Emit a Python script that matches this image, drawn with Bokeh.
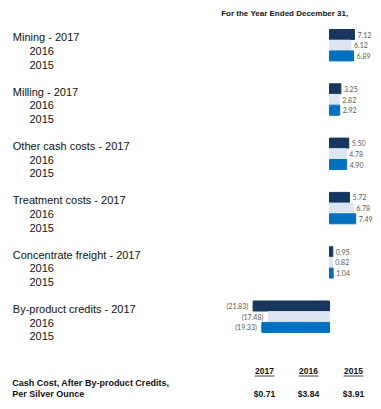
from bokeh.plotting import figure
from bokeh.models import Range1d, ColumnDataSource
from bokeh.core.properties import value
from bokeh.embed import file_html
from bokeh.resources import INLINE

# ---- data ----
categories = ["Mining", "Milling", "Other cash costs", "Treatment costs",
              "Concentrate freight", "By-product credits"]
years = ["2017", "2016", "2015"]
v2017 = [7.12, 3.25, 5.50, 5.72, 0.95, -21.83]
v2016 = [6.12, 2.82, 4.78, 6.78, 0.82, -17.48]
v2015 = [6.89, 2.92, 4.90, 7.49, 1.04, -19.33]
total_label = "Cash Cost, After By-product Credits,"
total_label2 = "Per Silver Ounce"
totals = ["$0.71", "$3.84", "$3.91"]
title = "For the Year Ended December 31,"

colors = ["#17375E", "#DCE6F2", "#0070C0"]

W, H = 381, 409
ZERO_PX = 329.0      # pixel of value zero
SX = 3.5             # pixels per unit
ROW_PX = 54.3        # pixels per group
TOP_PX = 44.7        # pixel of first group centre
X0 = -ZERO_PX / SX
X1 = (W - ZERO_PX) / SX
YT = -TOP_PX / ROW_PX
YB = YT + H / ROW_PX

def px2x(px):
    return X0 + px / SX

def px2y(py):
    return YT + py / ROW_PX

p = figure(width=W, height=H, x_range=Range1d(X0, X1), y_range=Range1d(YB, YT),
           output_backend="svg", toolbar_location=None,
           x_axis_type=None, y_axis_type=None, min_border=0,
           outline_line_color=None, background_fill_color="white")

step = 10.7 / ROW_PX
bar_h = 10.0 / ROW_PX
series = [v2017, v2016, v2015]
for k, vals in enumerate(series):
    ys = [i + (k - 1) * step for i in range(len(categories))]
    src = ColumnDataSource(dict(
        y=ys, right=vals,
        txt=[("%.2f" % v) if v >= 0 else "(%.2f)" % (-v) for v in vals],
        off=[3 if v >= 0 else -5 for v in vals],
        align=["left" if v >= 0 else "right" for v in vals]))
    p.hbar(y="y", left=0, right="right", height=bar_h, color=colors[k], source=src)
    p.text(x="right", y="y", text="txt", x_offset="off", text_align="align",
           text_baseline="middle", text_font=value("Lato"),
           text_font_size="7px", text_color="#595959", source=src)

# category labels
lab_x = px2x(12.3)
yr_x = px2x(29)
for i, c in enumerate(categories):
    cy = TOP_PX + i * ROW_PX
    for k, yr in enumerate(years):
        ty = cy - 7.8 + k * 13.6
        txt = c + "  - " + yr if k == 0 else yr
        xx = lab_x if k == 0 else yr_x
        p.text(x=[xx], y=[px2y(ty)], text=[txt], text_baseline="middle",
               text_font=value("Liberation Sans"), text_font_size="11px",
               text_color="#111111")

# title
p.text(x=[px2x(220.7)], y=[px2y(13)], text=[title], text_baseline="middle",
       text_font=value("Liberation Sans"), text_font_style="bold",
       text_font_size="8px", text_color="#111111")

# bottom table
col_px = [264, 308, 353]
for k, yr in enumerate(years):
    p.text(x=[px2x(col_px[k])], y=[px2y(370.7)], text=[yr], text_align="center",
           text_baseline="middle", text_font=value("Liberation Sans"),
           text_font_style="bold", text_font_size="8.5px", text_color="#111111")
    p.segment(x0=[px2x(col_px[k] - 10)], x1=[px2x(col_px[k] + 10)],
              y0=[px2y(375.5)], y1=[px2y(375.5)], line_color="#111111", line_width=0.8)
    p.text(x=[px2x(col_px[k])], y=[px2y(393)], text=[totals[k]], text_align="center",
           text_baseline="middle", text_font=value("Liberation Sans"),
           text_font_style="bold", text_font_size="8.5px", text_color="#111111")

p.text(x=[px2x(11.7)], y=[px2y(382.7)], text=[total_label], text_baseline="middle",
       text_font=value("Liberation Sans"), text_font_style="bold",
       text_font_size="9px", text_color="#111111")
p.text(x=[px2x(11.7)], y=[px2y(393.3)], text=[total_label2], text_baseline="middle",
       text_font=value("Liberation Sans"), text_font_style="bold",
       text_font_size="9px", text_color="#111111")

open("out.html", "w").write(file_html(p, INLINE))
